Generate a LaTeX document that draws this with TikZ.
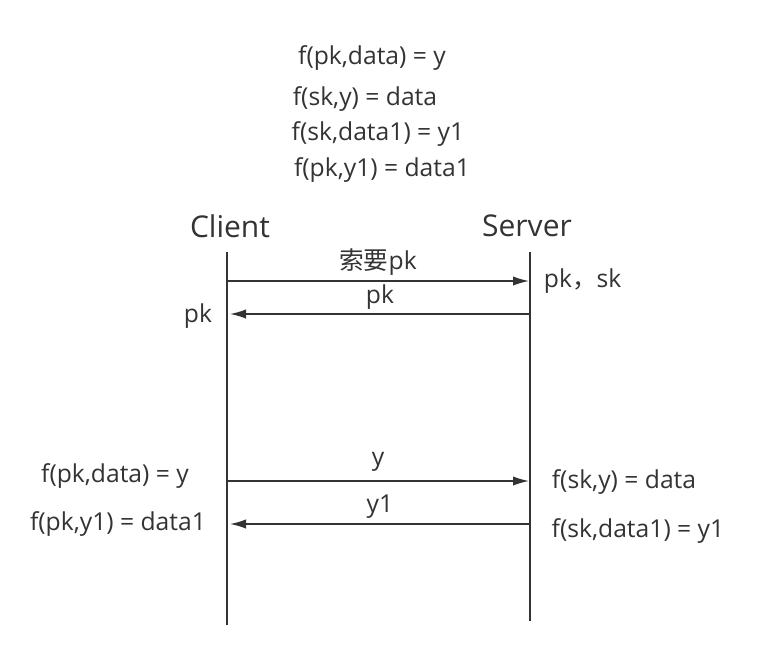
\documentclass[tikz,border=0pt]{standalone}
\usepackage{fontspec}
\setmainfont{Open Sans}
\newfontfamily\cjk{Noto Sans CJK SC}
\usetikzlibrary{arrows.meta,positioning}
\definecolor{ink}{HTML}{333333}

\begin{document}
\begin{tikzpicture}[x=0.75pt,y=-0.75pt]
	\tikzstyle{lbl}=[text=ink, font=\fontsize{18.5}{22}\selectfont, inner sep=0pt]
	\tikzstyle{head}=[text=ink, font=\fontsize{22.5}{27}\selectfont, inner sep=0pt]
	\tikzstyle{life}=[draw=ink, line width=1.1pt]
	\tikzstyle{msg}=[draw=ink, line width=1.1pt, -{Latex[length=12pt,width=7pt]}]

	\useasboundingbox (0,0) rectangle (767,651);

	% formulas on top
	\node[lbl] (f1) at (372,58) {f(pk,data) = y};
	\node[lbl] (f2) at (365,99) {f(sk,y) = data};
	\node[lbl] (f3) at (378,134) {f(sk,data1) = y1};
	\node[lbl] (f4) at (382,170) {f(pk,y1) = data1};

	% the two parties
	\node[head] (client) at (230,226) {Client};
	\node[head] (server) at (527,226) {Server};

	\coordinate (ctop) at (227,252);
	\coordinate (cbot) at (227,625);
	\coordinate (stop) at (530,252);
	\coordinate (sbot) at (530,621);
	\draw[life] (ctop) -- (cbot);
	\draw[life] (stop) -- (sbot);

	% message end points
	\coordinate (c1) at (227,281);
	\coordinate (s1) at (529,281);
	\coordinate (s2) at (530,314);
	\coordinate (c2) at (230,314);
	\coordinate (c3) at (227,481);
	\coordinate (s3) at (529,481);
	\coordinate (s4) at (530,524);
	\coordinate (c4) at (230,524);

	\draw[msg] (c1) -- (s1) node[lbl, midway, above=4pt] (m1) {{\cjk 索要}pk};
	\draw[msg] (s2) -- (c2) node[lbl, midway, above=3pt] (m2) {pk};
	\draw[msg] (c3) -- (s3) node[lbl, midway, above=7pt] (m3) {y};
	\draw[msg] (s4) -- (c4) node[lbl, midway, above=4pt] (m4) {y1};

	% side notes
	\node[lbl] (pksk) [right=11pt of s1] {pk{\cjk ，}sk};
	\node[lbl] (pkc) at (198,316) {pk};
	\node[lbl] (cl3) at (115,476) {f(pk,data) = y};
	\node[lbl] (cl4) at (118,524) {f(pk,y1) = data1};
	\node[lbl] (sr3) at (624,482) {f(sk,y) = data};
	\node[lbl] (sr4) at (638,531) {f(sk,data1) = y1};
\end{tikzpicture}
\end{document}
